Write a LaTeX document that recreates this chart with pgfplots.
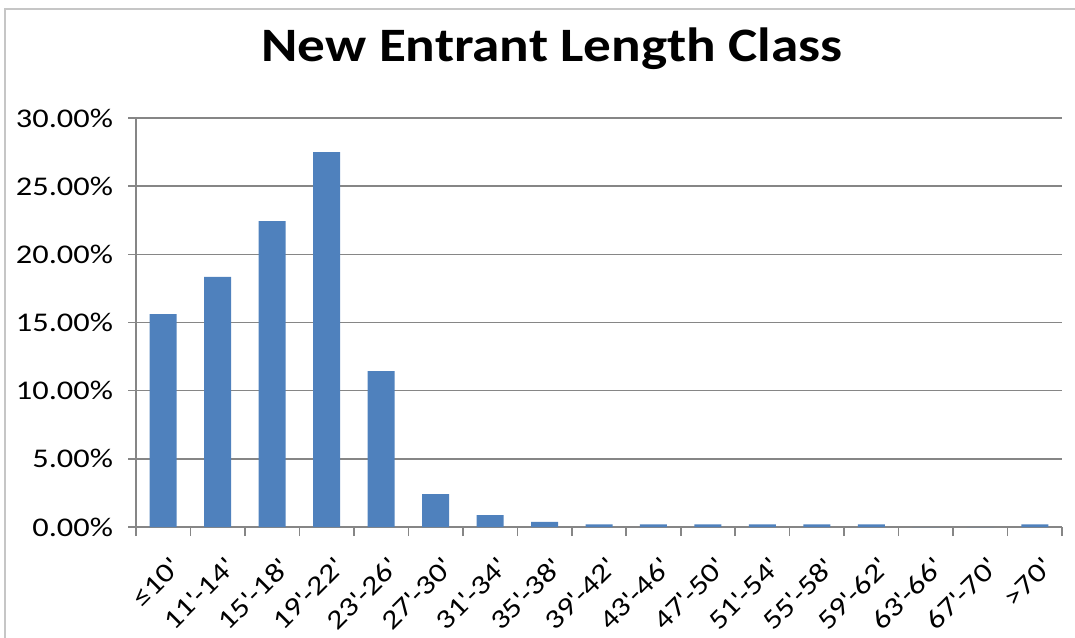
\documentclass[border=0pt]{standalone}
\usepackage{pgfplots}
\pgfplotsset{compat=1.18}
\usepackage{fontspec}
\setmainfont{Carlito}
\newfontfamily\widefont{Carlito}[FakeStretch=1.2]
\newfontfamily\titlefont{Carlito}[FakeStretch=1.15]
\definecolor{barblue}{HTML}{4F81BD}
\definecolor{gridgray}{HTML}{868686}
\newcommand{\ap}{\textquotesingle}
\begin{document}
\begin{tikzpicture}
\useasboundingbox (0pt,0pt) rectangle (537.5pt,318.5pt);
\draw[gray!45, line width=0.8pt] (2.5pt,-5pt) -- (2.5pt,314pt) -- (545pt,314pt);
\node[font=\titlefont\fontsize{24}{28}\selectfont\bfseries, anchor=base] at (276pt,287.5pt) {New Entrant Length Class};
\begin{axis}[
  at={(68pt,55pt)}, anchor=south west,
  scale only axis, width=463pt, height=204.5pt,
  xmin=-0.5, xmax=16.5, ymin=0, ymax=30,
  ybar, bar width=13.5pt,
  axis lines*=left,
  axis line style={gridgray, line width=0.8pt},
  ymajorgrids, grid style={gridgray, line width=0.8pt},
  ytick={0,5,...,30},
  yticklabel={\pgfmathprintnumber[fixed,fixed zerofill,precision=2]{\tick}\%},
  /pgf/number format/assume math mode=true,
  xtick={0,...,16},
  xticklabels={{≤10\ap},{11\ap-14\ap},{15\ap-18\ap},{19\ap-22\ap},{23\ap-26\ap},{27\ap-30\ap},{31\ap-34\ap},{35\ap-38\ap},{39\ap-42\ap},{43\ap-46\ap},{47\ap-50\ap},{51\ap-54\ap},{55\ap-58\ap},{59\ap-62\ap},{63\ap-66\ap},{67\ap-70\ap},{>70\ap}},
  minor xtick={-0.5,0.5,...,16.5},
  major x tick style={draw=none},
  minor tick length=4.5pt,
  major tick length=4pt,
  tick align=outside,
  tick style={gridgray, line width=0.8pt},
  ticklabel style={font=\widefont\fontsize{13.5}{15}\selectfont, text=black},
  x tick label style={rotate=45, anchor=north east, inner sep=0.5pt, yshift=-9pt, xshift=-5pt},
  y tick label style={xshift=-4pt},
]
\addplot[fill=barblue, draw=none] coordinates {
(0,15.62) (1,18.34) (2,22.44) (3,27.5) (4,11.44) (5,2.42) (6,0.88) (7,0.37)
(8,0.2) (9,0.2) (10,0.2) (11,0.2) (12,0.2) (13,0.2) (14,0) (15,0) (16,0.2)};
\end{axis}
\end{tikzpicture}
\end{document}
